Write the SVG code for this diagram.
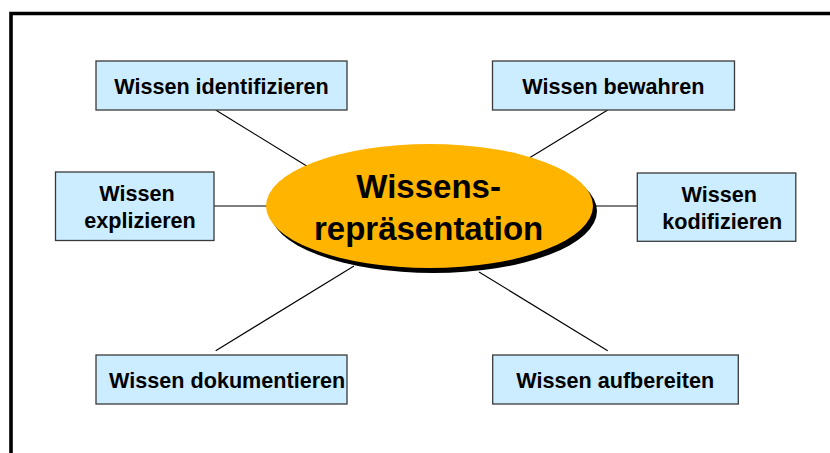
<svg xmlns="http://www.w3.org/2000/svg" width="830" height="453" viewBox="0 0 830 453">
  <style>
    .box { fill: #CCECFF; stroke: #3A3A3A; stroke-width: 1.3; }
    .lbl { font-family: "Liberation Sans", Arial, sans-serif; font-weight: bold; font-size: 21.6px; fill: #000; text-anchor: middle; }
    .big { font-family: "Liberation Sans", Arial, sans-serif; font-weight: bold; font-size: 33px; fill: #000; text-anchor: middle; }
    .conn { stroke: #000; stroke-width: 1.1; fill: none; }
  </style>
  <rect width="830" height="453" fill="#FFFFFF"/>
  <!-- frame: left and top edges -->
  <path d="M11,453 V13.5 H830" fill="none" stroke="#000" stroke-width="3.6"/>

  <g id="connectors">
    <line class="conn" x1="215.7" y1="110" x2="310" y2="168"/>
    <line class="conn" x1="214" y1="206" x2="268" y2="206"/>
    <line class="conn" x1="607.7" y1="110" x2="526" y2="160"/>
    <line class="conn" x1="592" y1="206" x2="637.3" y2="206"/>
    <line class="conn" x1="215.7" y1="350.7" x2="354" y2="266"/>
    <line class="conn" x1="607.7" y1="350.7" x2="479" y2="272"/>
  </g>

  <g id="center">
    <ellipse cx="433.5" cy="211" rx="163.5" ry="62" fill="#000"/>
    <ellipse cx="429.5" cy="206" rx="163.5" ry="62" fill="#FFB400"/>
    <text class="big" x="428.6" y="198">Wissens-</text>
    <text class="big" x="428.6" y="240">repräsentation</text>
  </g>

  <g id="identifizieren">
    <rect class="box" x="96" y="61" width="251" height="49"/>
    <text class="lbl" x="221.5" y="94">Wissen identifizieren</text>
  </g>

  <g id="explizieren">
    <rect class="box" x="55.5" y="172" width="158.5" height="68.5"/>
    <text class="lbl" x="137" y="201">Wissen</text>
    <text class="lbl" x="140" y="227.7">explizieren</text>
  </g>

  <g id="bewahren">
    <rect class="box" x="492.5" y="61" width="242" height="49"/>
    <text class="lbl" x="613.3" y="94">Wissen bewahren</text>
  </g>

  <g id="kodifizieren">
    <rect class="box" x="637.3" y="173" width="158.5" height="68.3"/>
    <text class="lbl" x="719.2" y="201.7">Wissen</text>
    <text class="lbl" x="722.3" y="228.7">kodifizieren</text>
  </g>

  <g id="dokumentieren">
    <rect class="box" x="96" y="355" width="251" height="49"/>
    <text class="lbl" x="227.2" y="387.7">Wissen dokumentieren</text>
  </g>

  <g id="aufbereiten">
    <rect class="box" x="492.7" y="355" width="245.6" height="49"/>
    <text class="lbl" x="615.2" y="387.7">Wissen aufbereiten</text>
  </g>
</svg>
